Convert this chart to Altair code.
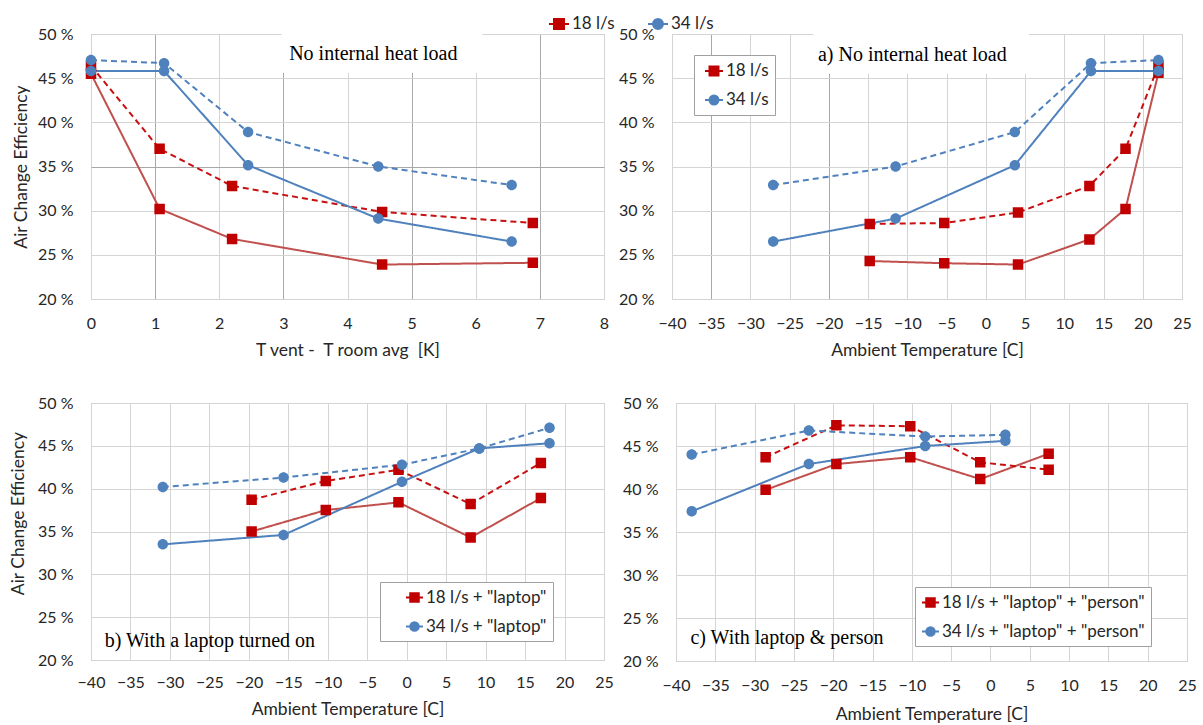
import altair as alt
import pandas as pd

# ---------------- data ----------------
LAB_18 = "18 l/s"
LAB_34 = "34 l/s"
LAB_18_LAP = '18 l/s + "laptop"'
LAB_34_LAP = '34 l/s + "laptop"'
LAB_18_PER = '18 l/s + "laptop" + "person"'
LAB_34_PER = '34 l/s + "laptop" + "person"'

# Panel 1: x = T vent - T room avg [K]
P1_RED_X = [0, 1.07, 2.2, 4.54, 6.89]
P1_RED_SOLID = [45.5, 30.2, 26.8, 23.9, 24.1]
P1_RED_DASHED = [46.4, 37.0, 32.8, 29.85, 28.6]
P1_BLUE_X = [0, 1.14, 2.45, 4.48, 6.56]
P1_BLUE_SOLID = [45.8, 45.8, 35.15, 29.1, 26.5]
P1_BLUE_DASHED = [47.05, 46.7, 38.9, 35.0, 32.9]

# Panel 2 (a): x = ambient temperature [C]
P2_RED_X = [-14.8, -5.3, 4.1, 13.2, 17.8, 22.0]
P2_RED_SOLID = [24.3, 24.05, 23.9, 26.75, 30.2, 45.6]
P2_RED_DASHED = [28.5, 28.6, 29.8, 32.8, 37.0, 46.4]
P2_BLUE_X = [-27.1, -11.5, 3.7, 13.4, 22.0]
P2_BLUE_SOLID = [26.5, 29.1, 35.15, 45.8, 45.8]
P2_BLUE_DASHED = [32.9, 35.0, 38.9, 46.7, 47.05]

# Panel 3 (b)
P3_RED_X = [-19.65, -10.25, -1.04, 8.1, 17.0]
P3_RED_SOLID = [35.0, 37.5, 38.4, 34.3, 38.9]
P3_RED_DASHED = [38.7, 40.9, 42.2, 38.2, 43.0]
P3_BLUE_X = [-30.9, -15.6, -0.6, 9.2, 18.1]
P3_BLUE_SOLID = [33.5, 34.6, 40.8, 44.7, 45.3]
P3_BLUE_DASHED = [40.2, 41.3, 42.8, 44.7, 47.1]

# Panel 4 (c)
P4_RED_X = [-28.6, -19.6, -10.2, -1.3, 7.4]
P4_RED_SOLID = [39.9, 42.9, 43.7, 41.15, 44.1]
P4_RED_DASHED = [43.7, 47.4, 47.3, 43.1, 42.25]
P4_BLUE_X = [-38.0, -23.1, -8.3, 1.9]
P4_BLUE_SOLID = [37.4, 42.9, 45.0, 45.6]
P4_BLUE_DASHED = [44.0, 46.8, 46.1, 46.3]

Y_TICKS = [20, 25, 30, 35, 40, 45, 50]
X_TICKS_DT = [0, 1, 2, 3, 4, 5, 6, 7, 8]
X_TICKS_AMB = [-40, -35, -30, -25, -20, -15, -10, -5, 0, 5, 10, 15, 20, 25]

ANNOT_TEXT = ["No internal heat load", "a) No internal heat load",
              "b) With a laptop turned on", "c) With laptop & person"]
ANNOT_X = [3.09, -21.4, -38.27, -38.17]
ANNOT_Y = [47.7, 47.6, 22.2, 22.7]
# white boxes behind the top annotations (data units)
MASK_X = [[2.97, 6.1], [-22.0, 5.5]]
MASK_Y = [[45.6, 50.0], [45.5, 50.0]]

# ---------------- styles ----------------
RED_MK = "#C00000"
RED_LINE = "#C0504D"
RED_DASH = "#C81010"
BLUE = "#4F81BD"
SQ = "M-1,0H1M-0.5,-0.5H0.5V0.5H-0.5Z"
CI = "M-1,0H1M0.5,0A0.5,0.5,0,1,1,-0.5,0A0.5,0.5,0,1,1,0.5,0Z"
TXT = "#262626"
FONT = "Lato"
NB = "\u00a0"
GRID_LIGHT = "#d4d4d4"
GRID_DARK = "#a8a8a8"


def grid_color(dark_values):
    if not dark_values:
        return GRID_LIGHT
    test = "indexof([" + ",".join(str(v) for v in dark_values) + "], datum.value) >= 0"
    return {"condition": {"test": test, "value": GRID_DARK}, "value": GRID_LIGHT}


def panel(labs, red_x, red_s, red_d, blue_x, blue_s, blue_d, xdom, xticks, xtitle,
          width, height, legend, annot_i, mask_i=None, ytitle=None, ytitle_x=None,
          ytitle_y=None, xlab_pad=16, xtitle_pad=10, dark_x=None, dark_y=None):
    lab18, lab34 = labs
    rows = []
    for lab, var, xs, ys in [(lab18, "solid", red_x, red_s), (lab18, "dashed", red_x, red_d),
                             (lab34, "solid", blue_x, blue_s), (lab34, "dashed", blue_x, blue_d)]:
        for x, y in zip(xs, ys):
            rows.append(dict(x=x, y=y, series=lab, variant=var, key=lab + "|" + var))
    df = pd.DataFrame(rows)
    keys = [lab18 + "|solid", lab18 + "|dashed", lab34 + "|solid", lab34 + "|dashed"]

    yaxis_kw = dict(values=Y_TICKS, labelExpr="datum.value + ' %'", labelPadding=18, title=ytitle,
                    gridColor=grid_color(dark_y))
    if ytitle is not None:
        yaxis_kw.update(titleBaseline="middle", titleX=ytitle_x, titleFontSize=17.5)
        if ytitle_y is not None:
            yaxis_kw.update(titleY=ytitle_y)
    xenc = alt.X("x:Q", scale=alt.Scale(domain=xdom, nice=False, zero=False),
                 axis=alt.Axis(values=xticks, title=xtitle, labelPadding=xlab_pad,
                               titlePadding=xtitle_pad, titleFontSize=17.5,
                               gridColor=grid_color(dark_x)))
    yenc = alt.Y("y:Q", scale=alt.Scale(domain=[20, 50], nice=False, zero=False),
                 axis=alt.Axis(**yaxis_kw))

    layers = []
    if mask_i is not None:
        mdf = pd.DataFrame({"x": [MASK_X[mask_i][0]], "x2": [MASK_X[mask_i][1]],
                            "y": [MASK_Y[mask_i][0]], "y2": [MASK_Y[mask_i][1]]})
        layers.append(alt.Chart(mdf).mark_rect(color="white").encode(
            x=xenc, x2="x2:Q", y=yenc, y2="y2:Q"))

    lines = alt.Chart(df).mark_line(strokeWidth=2).encode(
        x=xenc, y=yenc,
        color=alt.Color("key:N", scale=alt.Scale(domain=keys, range=[RED_LINE, RED_DASH, BLUE, BLUE]),
                        legend=None),
        strokeDash=alt.StrokeDash("variant:N", scale=alt.Scale(domain=["solid", "dashed"],
                                                               range=[[1, 0], [6, 4]]), legend=None),
    )
    leg = alt.Legend(title=None, orient="none", symbolStrokeWidth=2, labelFont=FONT,
                     labelFontSize=17, labelColor=TXT, labelLimit=400, **legend)
    pts = alt.Chart(df).mark_point(filled=True, size=441, strokeWidth=0, opacity=1).encode(
        x=xenc, y=yenc,
        fill=alt.Fill("series:N", scale=alt.Scale(domain=[lab18, lab34], range=[RED_MK, BLUE]), legend=leg),
        stroke=alt.Stroke("series:N", scale=alt.Scale(domain=[lab18, lab34], range=[RED_MK, BLUE]), legend=leg),
        shape=alt.Shape("series:N", scale=alt.Scale(domain=[lab18, lab34], range=[SQ, CI]), legend=leg),
    )
    adf = pd.DataFrame({"x": [ANNOT_X[annot_i]], "y": [ANNOT_Y[annot_i]], "t": [ANNOT_TEXT[annot_i]]})
    txt = alt.Chart(adf).mark_text(align="left", baseline="middle", font="Liberation Serif",
                                   fontSize=20, color="black").encode(x=xenc, y=yenc, text="t:N")
    layers += [lines, pts, txt]
    return alt.layer(*layers).properties(width=width, height=height)


p1 = panel((LAB_18, LAB_34), P1_RED_X, P1_RED_SOLID, P1_RED_DASHED, P1_BLUE_X, P1_BLUE_SOLID,
           P1_BLUE_DASHED, [0, 8], X_TICKS_DT, "T vent -" + NB + " T room avg" + NB + " [K]", 513, 265,
           dict(legendX=457, legendY=-21, direction="horizontal", symbolSize=400, padding=0,
                columnPadding=29, labelOffset=2),
           0, mask_i=0, ytitle="Air Change Efficiency", ytitle_x=-70,
           dark_x=[1, 3, 5, 7], dark_y=[35])
p2 = panel((LAB_18, LAB_34), P2_RED_X, P2_RED_SOLID, P2_RED_DASHED, P2_BLUE_X, P2_BLUE_SOLID,
           P2_BLUE_DASHED, [-40, 25], X_TICKS_AMB, "Ambient Temperature [C]", 510, 265,
           dict(legendX=22, legendY=21, direction="vertical", symbolSize=324, padding=6,
                rowPadding=10, symbolOffset=4, labelOffset=2, strokeColor="#a0a0a0",
                fillColor="white"),
           1, mask_i=1, dark_x=[-35, -20])
p3 = panel((LAB_18_LAP, LAB_34_LAP), P3_RED_X, P3_RED_SOLID, P3_RED_DASHED, P3_BLUE_X,
           P3_BLUE_SOLID, P3_BLUE_DASHED, [-40, 25], X_TICKS_AMB, "Ambient Temperature [C]", 513, 257,
           dict(legendX=289, legendY=179, direction="vertical", symbolSize=289, padding=6,
                rowPadding=11, symbolOffset=19, labelOffset=2, strokeColor="#a0a0a0",
                fillColor="white"),
           2, ytitle="Air Change Efficiency", ytitle_x=-73, ytitle_y=110, xlab_pad=14, xtitle_pad=10)
p4 = panel((LAB_18_PER, LAB_34_PER), P4_RED_X, P4_RED_SOLID, P4_RED_DASHED, P4_BLUE_X,
           P4_BLUE_SOLID, P4_BLUE_DASHED, [-40, 25], X_TICKS_AMB, "Ambient Temperature [C]", 511, 258,
           dict(legendX=239, legendY=184, direction="vertical", symbolSize=289, padding=6,
                rowPadding=11, labelOffset=2, strokeColor="#a0a0a0", fillColor="white"),
           3, xlab_pad=16, xtitle_pad=12)

IND = dict(color="independent", fill="independent", stroke="independent",
           shape="independent", strokeDash="independent")
LEG = dict(fill="independent", stroke="independent", shape="independent")
row1 = alt.hconcat(p1, p2, spacing=68, bounds="flush").resolve_scale(**IND).resolve_legend(**LEG)
row2 = alt.hconcat(p3, p4, spacing=72, bounds="flush").resolve_scale(**IND).resolve_legend(**LEG)
chart = alt.vconcat(row1, row2, spacing=35).resolve_scale(**IND).resolve_legend(**LEG)

chart = chart.properties(
    padding={"left": 8, "top": 12, "right": 0, "bottom": 0},
    background="white",
).configure_axis(
    labelFont=FONT, titleFont=FONT, labelFontSize=16, titleFontSize=16,
    labelColor=TXT, titleColor=TXT, titleFontWeight="normal",
    gridWidth=1, domain=False, ticks=False, tickSize=0,
    labelFlush=False, labelOverlap=False,
).configure_view(stroke="#c4c4c4")

chart.save("out.html", embed_options={"renderer": "svg", "actions": False})
